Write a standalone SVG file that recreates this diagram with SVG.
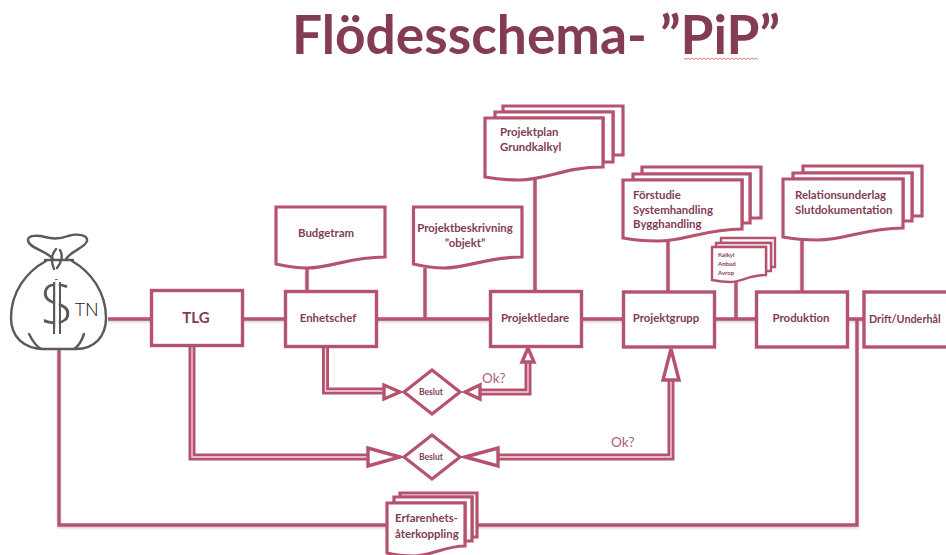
<svg xmlns="http://www.w3.org/2000/svg" width="946" height="555" viewBox="0 0 946 555">
<style>
text{font-family:"Lato","Liberation Sans",sans-serif;font-weight:700;fill:#7f3c57;font-size:11.400px}
.c{text-anchor:middle}
.b{fill:#fff;stroke:#b5536f;stroke-width:3.400}
.d{fill:#fff;stroke:#b5536f;stroke-width:3.200;stroke-linejoin:miter}
.l{fill:none;stroke:#b5536f;stroke-width:3.400}
.o{fill:none;stroke:#b5536f;stroke-width:7;stroke-linejoin:miter}
.i{fill:none;stroke:#f3dce3;stroke-width:1.300;stroke-linejoin:miter}
.a{fill:#fff;stroke:#b5536f;stroke-width:3.400}
.ok{font-weight:400;font-size:13.500px;fill:#a8607c}
.bag{fill:none;stroke:#5a5a5a;stroke-width:2.400;stroke-linecap:round;stroke-linejoin:round}
</style>
<defs>
<filter id="s" x="-5%" y="-5%" width="110%" height="110%"><feDropShadow dx="0" dy="1.500" stdDeviation="1.200" flood-color="#000" flood-opacity=".18"/></filter>
</defs>

<text id="title" x="292" y="54" style="font-size:53.300px;fill:#843c54">Flödesschema- ”PiP”</text>
<path d="M684 58l2 1.500 2-1.500 2 1.500 2-1.500 2 1.500 2-1.500 2 1.500 2-1.500 2 1.500 2-1.500 2 1.500 2-1.500 2 1.500 2-1.500 2 1.500 2-1.500 2 1.500 2-1.500 2 1.500 2-1.500 2 1.500 2-1.500 2 1.500 2-1.500 2 1.500 2-1.500 2 1.500 2-1.500 2 1.500 2-1.500 2 1.500 2-1.500 2 1.500 2-1.500 2 1.500 2-1.500 2 1.500" fill="none" stroke="#d9534f" stroke-width=".8"/>

<g id="connectors">
<g filter="url(#s)">
<path class="l" d="M108 319H151M243 319H285M377 319H490M582 319H623M715 319H756M848 319H864"/>
<path class="l" d="M307 268V291M425 268V319M535 178V291M668 240V292M736 281V319M802 240V292"/>
<path class="l" d="M857 319V525H477M387 525H59V350"/>
</g>
<path class="o" d="M325.500 346V391H385"/><path class="i" d="M325.500 346V391H385"/>
<path class="o" d="M192 346V457H370"/><path class="i" d="M192 346V457H370"/>
<path class="o" d="M478 392H528V362"/><path class="i" d="M478 392H528V362"/>
<path class="o" d="M496 457H671V378"/><path class="i" d="M496 457H671V378"/>
<polygon class="a" points="400,392 384,385 384,399"/>
<polygon class="a" points="400,457 368,448 368,466"/>
<polygon class="a" points="465,392 480,385 480,399"/>
<polygon class="a" points="465,457 498,448 498,466"/>
<polygon class="a" points="528,348 522,362 534,362"/>
<polygon class="a" points="671,349 663,380 679,380"/>
</g>

<g id="bag">
<path class="bag" d="M53 259C46 250 28 248 28 240C28 235 38 235 45 237C52 239 60 239 68 236C78 233 88 235 87 241C85 248 72 250 66 259"/>
<path class="bag" d="M45 260H73M56 249C52 254 50 259 54 269M60 250C63 255 62 262 57 268"/>
<path class="bag" d="M46 261C26 272 11 292 11 318C11 337 24 349 44 349H76C94 349 106 337 106 318C106 292 91 272 72 261"/>
<path class="bag" d="M29 334C32 340 36 346 41 349M84 334C82 340 79 346 74 349"/>
<text x="57" y="326" class="c" style="font-family:'Open Sans',sans-serif;font-weight:300;font-size:60px;fill:#5a5a5a">$</text>
<path d="M57 280V336" stroke="#fff" stroke-width="3.500" fill="none"/>
<path d="M54 282V334M60 282V334" stroke="#5a5a5a" stroke-width="2" fill="none"/>
<text x="75" y="316" style="font-family:'Open Sans',sans-serif;font-weight:300;font-size:19px;fill:#222">TN</text>
</g>

<g id="tlg"><rect class="b" x="151.500" y="290.500" width="91" height="55"/><text x="196" y="323" class="c" style="font-size:15px">TLG</text></g>
<g id="enhetschef"><rect class="b" x="285.500" y="291.500" width="91" height="55"/><text x="328" y="322" class="c">Enhetschef</text></g>
<g id="projektledare"><rect class="b" x="490.500" y="291.500" width="91" height="55"/><text x="535" y="322" class="c">Projektledare</text></g>
<g id="projektgrupp"><rect class="b" x="623.500" y="292" width="91" height="55"/><text x="666" y="322" class="c">Projektgrupp</text></g>
<g id="produktion"><rect class="b" x="756.500" y="292" width="91" height="55"/><text x="801" y="322" class="c">Produktion</text></g>
<g id="drift"><rect class="b" x="864" y="292" width="90" height="55"/><text x="869" y="323" style="font-size:10.800px">Drift/Underhål</text></g>

<g id="budgetram"><path class="d" d="M276 207H385V257C350 257 330 268 307 268C295 268 285 266 276 264Z"/><text x="326" y="237" class="c">Budgetram</text></g>
<g id="projektbeskrivning"><path class="d" d="M413.500 207H522V257C487 257 467 268 444 268C432 268 422 266 413.500 264Z"/><text x="465" y="232" class="c">Projektbeskrivning</text><text x="465" y="247" class="c">”objekt”</text></g>

<g id="projektplan">
<path class="d" d="M503 106H623V155H613V112H503Z"/>
<path class="d" d="M495 112H613V162H603V118H495Z"/>
<path class="d" d="M485 118H603V167C565 167 545 180 520 180C507 180 495 179 485 177Z"/>
<text x="500" y="136">Projektplan</text><text x="500" y="151">Grundkalkyl</text>
</g>
<g id="forstudie">
<path class="d" d="M642 167H761V218H750V174H642Z"/>
<path class="d" d="M633 174H750V223H742V180H633Z"/>
<path class="d" d="M623 180H742V229C705 229 685 241 658 241C645 241 633 240 623 238Z"/>
<text x="633" y="199">Förstudie</text><text x="633" y="214">Systemhandling</text><text x="633" y="228">Bygghandling</text>
</g>
<g id="kalkyl">
<path class="d" style="stroke-width:2.400" d="M721 238H775V267H771V243H721Z"/>
<path class="d" style="stroke-width:2.400" d="M716 243H771V271H766V247H716Z"/>
<path class="d" style="stroke-width:2.400" d="M712 247H766V275C748 275 742 282 730 282C723 282 717 281 712 280Z"/>
<text x="718" y="257" style="font-size:6px">Kalkyl</text><text x="718" y="266" style="font-size:6px">Anbud</text><text x="718" y="275" style="font-size:6px">Avrop</text>
</g>
<g id="relationsunderlag">
<path class="d" d="M803 166H922V216H912V173H803Z"/>
<path class="d" d="M793 173H912V221H903V179H793Z"/>
<path class="d" d="M783 179H903V228C865 228 845 240 818 240C805 240 793 239 783 237Z"/>
<text x="795" y="199">Relationsunderlag</text><text x="795" y="214">Slutdokumentation</text>
</g>
<g id="erfarenhet">
<path class="d" d="M400 493H477V537H472V497H400Z"/>
<path class="d" d="M394 497H472V541H465V503H394Z"/>
<path class="d" d="M387 503H465V546C445 546 430 556 415 556C405 556 395 555 387 553Z"/>
<text x="395" y="522">Erfarenhets-</text><text x="395" y="538">återkoppling</text>
</g>

<g id="beslut1"><polygon class="d" points="432,370 460,392 432,414 404,392"/><text x="431" y="395" class="c" style="font-size:8.500px">Beslut</text></g>
<g id="beslut2"><polygon class="d" points="432,435 460,457 432,479 404,457"/><text x="431" y="460" class="c" style="font-size:8.500px">Beslut</text></g>
<text x="482" y="383" class="ok">Ok?</text>
<text x="611" y="447" class="ok">Ok?</text>
</svg>
